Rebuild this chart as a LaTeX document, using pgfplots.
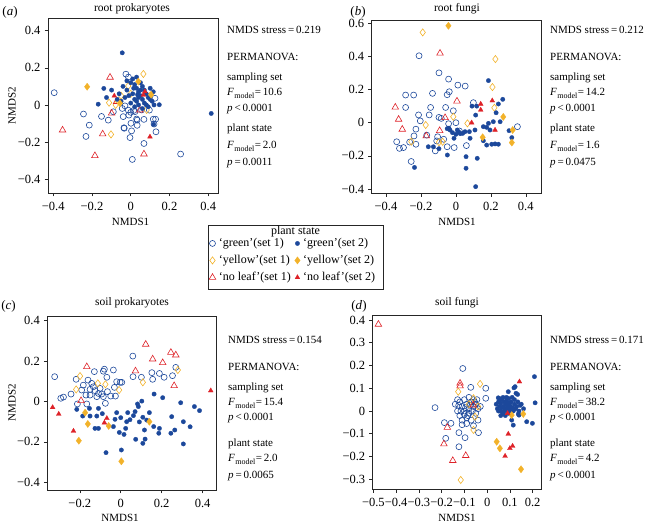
\documentclass[border=0pt]{standalone}
\usepackage{pgfplots}
\pgfplotsset{compat=1.18}
\usepackage{fontspec}
\setmainfont{Liberation Serif}
\definecolor{blueC}{RGB}{28,72,155}
\definecolor{yellowC}{RGB}{242,178,42}
\definecolor{redC}{RGB}{222,34,40}
\newcommand\fs{\fontsize{11bp}{13bp}\selectfont}
\newcommand\fl{\fontsize{12bp}{14bp}\selectfont}
\newcommand\ft{\fontsize{12.5bp}{14bp}\selectfont}
\newcommand\Fm{\textit{F}\kern0.3bp\raisebox{-2.6bp}{\fontsize{8bp}{8bp}\selectfont model}}
\pgfplotsset{
 panel/.style={scale only axis, axis line style={line width=0.8bp, black!85},
   tick align=outside, tick pos=left, major tick length=3.5bp,
   tick style={line width=0.6bp, black!85}, tick label style={font=\ft},
   xticklabel style={yshift=-2bp}, yticklabel style={xshift=-0.5bp}},
 g1/.style={only marks, mark=o, mark size=3bp, color=blueC, mark options={line width=0.6bp}},
 g2/.style={only marks, mark=*, mark size=2.2bp, color=blueC, mark options={fill=blueC, draw=blueC, line width=0.3bp}},
 y1/.style={only marks, mark=diamond, mark size=3.6bp, color=yellowC, mark options={line width=0.6bp}},
 y2/.style={only marks, mark=diamond*, mark size=3.6bp, color=yellowC, mark options={fill=yellowC, draw=yellowC, line width=0.3bp}},
 r1/.style={only marks, mark=triangle, mark size=3.8bp, color=redC, mark options={line width=0.6bp}},
 r2/.style={only marks, mark=triangle*, mark size=2.8bp, color=redC, mark options={fill=redC, draw=redC, line width=0.3bp}},
}
\begin{document}
\begin{tikzpicture}[x=1bp,y=1bp]
\useasboundingbox (0,0) rectangle (650,525);
% ---------------- (a) root prokaryotes
\begin{axis}[panel, at={(48bp,332bp)}, anchor=south west, width=170bp, height=175bp,
  xmin=-0.427, xmax=0.450, ymin=-0.475, ymax=0.469,
  xtick={-0.4,-0.2,0,0.2,0.4}, xticklabels={−0.4,−0.2,0,0.2,0.4},
  ytick={-0.4,-0.2,0,0.2,0.4}, yticklabels={−0.4,−0.2,0,0.2,0.4}]
\addplot[g1] coordinates {(-0.395,0.066) (-0.244,-0.049) (-0.214,-0.109) (-0.231,-0.170) (-0.151,-0.062) (-0.116,-0.082) (-0.090,-0.037) (-0.044,-0.019) (-0.035,-0.123) (-0.025,0.166) (-0.012,0.150) (-0.013,-0.028) (-0.004,-0.176) (0.004,-0.140) (0.008,-0.294) (0.000,-0.040) (0.015,-0.030) (-0.010,-0.055) (0.033,-0.082) (0.068,-0.078) (0.033,-0.110) (0.068,-0.208) (0.096,-0.028) (0.116,-0.077) (0.120,-0.103) (0.130,-0.145) (0.125,0.036) (0.257,-0.265) (0.022,-0.036) (-0.030,-0.005) (0.056,-0.027) (-0.039,-0.063) (0.001,-0.099) (0.030,-0.076) (-0.034,-0.126) (0.128,-0.077)};
\addplot[y1] coordinates {(0.065,0.167) (-0.102,-0.159) (-0.112,0.012) (-0.078,0.000) (-0.013,0.102) (0.000,0.060) (0.082,-0.027) (-0.050,0.050) (0.100,0.050)};
\addplot[r1] coordinates {(-0.107,0.149) (-0.352,-0.136) (-0.145,-0.157) (-0.185,-0.274) (0.068,-0.265) (-0.099,-0.045) (-0.073,0.018) (0.047,-0.028)};
\addplot[g2] coordinates {(-0.044,0.281) (0.415,-0.046) (-0.168,0.004) (-0.139,0.089) (-0.125,0.040) (-0.099,0.080) (0.147,0.001) (0.116,0.071) (0.118,-0.105) (-0.060,0.060) (-0.040,0.100) (-0.020,0.080) (0.000,0.120) (0.010,0.140) (0.020,0.110) (0.030,0.090) (0.040,0.070) (0.050,0.120) (0.060,0.100) (0.070,0.080) (0.080,0.060) (0.090,0.040) (0.100,0.030) (0.110,0.020) (-0.030,0.040) (-0.010,0.050) (0.010,0.060) (0.020,0.030) (0.030,0.020) (0.040,0.040) (0.050,0.050) (0.060,0.030) (0.070,0.010) (0.080,0.000) (0.090,-0.010) (0.000,0.010) (0.020,-0.010) (0.040,0.000) (-0.050,0.020) (0.060,-0.020) (0.100,0.090) (-0.020,0.130) (0.030,0.150) (0.050,0.080) (0.120,0.000) (0.015,0.090) (-0.070,0.030) (0.035,0.055)};
\addplot[y2] coordinates {(-0.225,0.098) (0.105,0.055) (0.039,0.126) (-0.056,0.009)};
\addplot[r2] coordinates {(-0.085,0.049) (0.099,-0.172) (0.073,0.072) (0.065,0.054)};
\end{axis}
% ---------------- (b) root fungi
\begin{axis}[panel, at={(371.7bp,331.7bp)}, anchor=south west, width=170bp, height=173.3bp,
  xmin=-0.482, xmax=0.491, ymin=-0.426, ymax=0.620,
  xtick={-0.4,-0.2,0,0.2,0.4}, xticklabels={−0.4,−0.2,0,0.2,0.4},
  ytick={-0.4,-0.2,0,0.2,0.4,0.6}, yticklabels={−0.4,−0.2,0,0.2,0.4,0.6}]
\addplot[g1] coordinates {(-0.211,0.404) (-0.097,0.301) (-0.042,0.263) (-0.038,0.187) (-0.050,0.169) (0.011,0.227) (0.053,0.221) (-0.288,0.167) (-0.242,0.167) (-0.134,0.177) (-0.288,0.092) (-0.145,0.092) (-0.214,0.047) (-0.153,0.047) (-0.059,0.092) (-0.097,0.032) (-0.084,0.026) (-0.204,0.011) (-0.229,-0.039) (-0.167,-0.075) (-0.105,-0.085) (-0.070,-0.100) (-0.265,-0.117) (-0.300,-0.150) (-0.256,-0.234) (-0.229,-0.130) (-0.118,-0.170) (-0.050,-0.145) (-0.042,-0.006) (0.000,0.000) (0.060,-0.138) (0.020,-0.050) (-0.015,0.072) (0.100,0.121) (0.352,-0.024) (-0.010,-0.150) (-0.339,-0.115) (-0.323,-0.155) (-0.240,-0.080) (-0.110,-0.110)};
\addplot[y1] coordinates {(-0.190,0.545) (0.226,0.384) (0.209,0.215) (0.220,0.090) (-0.173,-0.014) (-0.255,-0.114) (-0.097,-0.118) (0.066,-0.004) (-0.076,-0.115) (-0.015,0.036)};
\addplot[r1] coordinates {(-0.091,0.419) (0.006,0.130) (-0.347,0.093) (-0.328,0.020) (-0.307,-0.040) (-0.093,-0.048) (-0.062,0.030) (-0.170,-0.080)};
\addplot[g2] coordinates {(0.186,0.254) (0.268,0.141) (0.243,0.113) (0.092,0.100) (0.119,0.100) (0.113,0.046) (0.230,0.060) (0.214,0.006) (0.186,-0.004) (0.157,-0.024) (0.176,-0.028) (0.195,-0.044) (0.109,-0.044) (0.077,-0.054) (0.052,-0.054) (0.039,-0.064) (0.025,-0.066) (0.008,-0.044) (-0.034,-0.044) (-0.050,-0.036) (0.081,-0.094) (-0.011,-0.094) (0.157,-0.109) (0.176,-0.135) (0.205,-0.130) (0.224,-0.128) (0.243,-0.130) (0.304,-0.048) (0.320,-0.090) (0.058,-0.205) (0.122,-0.215) (0.058,-0.275) (0.113,-0.386) (-0.049,-0.195) (-0.158,-0.145) (-0.129,-0.145) (-0.097,-0.157) (-0.237,-0.270) (-0.040,-0.033) (0.253,0.006) (-0.020,-0.060) (0.000,-0.070) (0.016,-0.056)};
\addplot[y2] coordinates {(-0.043,0.585) (0.271,0.035) (0.153,-0.088) (0.325,-0.044) (0.320,-0.120)};
\addplot[r2] coordinates {(0.142,0.113) (0.142,0.077) (0.090,0.000) (0.208,0.133) (0.224,-0.044)};
\end{axis}
% ---------------- (c) soil prokaryotes
\begin{axis}[panel, at={(47.3bp,35bp)}, anchor=south west, width=169.4bp, height=173.3bp,
  xmin=-0.359, xmax=0.469, ymin=-0.438, ymax=0.420,
  xtick={-0.2,0,0.2,0.4}, xticklabels={−0.2,0,0.2,0.4},
  ytick={-0.4,-0.2,0,0.2,0.4}, yticklabels={−0.4,−0.2,0,0.2,0.4}]
\addplot[g1] coordinates {(-0.323,0.123) (-0.293,0.016) (-0.280,0.022) (-0.243,0.037) (-0.218,0.110) (-0.212,-0.012) (-0.166,-0.012) (-0.160,0.106) (-0.129,0.148) (-0.080,0.160) (-0.085,0.150) (-0.068,0.120) (-0.036,0.156) (-0.020,0.098) (-0.003,0.095) (0.005,0.095) (-0.031,0.070) (-0.026,0.027) (-0.075,-0.009) (0.059,0.225) (0.060,0.123) (0.101,0.120) (0.152,0.143) (0.156,0.110) (0.189,0.139) (0.212,0.120) (0.253,0.128) (0.269,0.169) (-0.183,0.081) (-0.150,0.060) (-0.126,0.054) (-0.101,0.065) (-0.093,0.037) (-0.150,0.032) (-0.117,0.024) (-0.085,0.024) (-0.065,0.049) (-0.049,0.027) (-0.170,0.032) (-0.142,0.090) (-0.134,0.073) (-0.191,0.057) (-0.109,0.040)};
\addplot[y1] coordinates {(-0.199,0.126) (-0.112,0.090) (-0.075,0.085) (-0.008,0.057) (0.108,0.095) (0.279,0.156) (-0.218,0.060)};
\addplot[r1] coordinates {(0.122,0.283) (0.245,0.243) (0.269,0.230) (0.156,0.210) (0.205,0.192) (-0.166,0.172) (0.072,0.151) (0.261,0.078) (-0.194,0.004)};
\addplot[g2] coordinates {(-0.072,-0.253) (0.003,-0.240) (-0.007,-0.153) (0.016,-0.163) (0.024,-0.133) (0.073,-0.187) (0.108,-0.207) (0.119,-0.186) (0.116,-0.141) (0.091,-0.101) (0.062,-0.070) (0.070,-0.050) (0.086,-0.025) (0.082,-0.012) (0.103,0.002) (0.163,0.037) (0.205,0.019) (0.249,-0.075) (0.189,-0.133) (0.161,-0.124) (0.186,-0.157) (0.245,-0.157) (0.264,-0.141) (0.306,-0.210) (0.306,-0.100) (0.293,-0.006) (0.360,-0.025) (0.385,-0.045) (0.339,-0.125) (0.108,-0.078) (0.127,-0.092) (0.140,-0.055) (0.034,-0.055) (0.029,-0.100) (-0.020,-0.055) (-0.028,-0.088) (-0.117,-0.072) (-0.109,-0.034) (-0.126,-0.133) (-0.109,-0.133) (-0.150,-0.072) (-0.186,-0.072) (-0.215,-0.039) (-0.153,-0.034) (-0.036,-0.124) (0.045,-0.090) (-0.090,-0.060) (0.000,-0.080)};
\addplot[y2] coordinates {(-0.174,-0.055) (-0.161,-0.111) (-0.059,-0.121) (0.140,-0.100) (-0.205,-0.194) (0.003,-0.296)};
\addplot[r2] coordinates {(0.440,0.054) (-0.333,-0.029) (-0.303,-0.062) (-0.231,-0.146) (-0.068,-0.083) (-0.080,-0.105)};
\end{axis}
% ---------------- (d) soil fungi
\begin{axis}[panel, at={(372.7bp,35.7bp)}, anchor=south west, width=169bp, height=173.6bp,
  xmin=-0.503, xmax=0.240, ymin=-0.344, ymax=0.419,
  xtick={-0.5,-0.4,-0.3,-0.2,-0.1,0,0.1,0.2}, xticklabels={−0.5,−0.4,−0.3,−0.2,−0.1,0,0.1,0.2},
  ytick={-0.3,-0.2,-0.1,0,0.1,0.2,0.3,0.4}, yticklabels={−0.3,−0.2,−0.1,0,0.1,0.2,0.3,0.4}]
\addplot[g1] coordinates {(-0.107,0.187) (-0.229,0.015) (-0.188,-0.051) (-0.159,-0.054) (-0.182,-0.120) (-0.124,-0.095) (-0.097,-0.117) (-0.124,-0.157) (-0.038,-0.095) (-0.006,0.100) (-0.006,0.056) (-0.072,0.104) (-0.140,0.030) (-0.130,0.000) (-0.120,0.040) (-0.120,-0.020) (-0.110,0.020) (-0.110,-0.040) (-0.100,0.050) (-0.100,0.000) (-0.090,0.030) (-0.090,-0.030) (-0.080,0.060) (-0.080,0.010) (-0.080,-0.010) (-0.070,0.040) (-0.070,-0.040) (-0.060,0.020) (-0.060,0.050) (-0.050,-0.010) (-0.050,0.030) (-0.040,0.010) (-0.040,-0.040) (-0.030,0.020) (-0.130,0.050) (-0.115,0.000) (-0.095,0.015) (-0.085,-0.020) (-0.065,0.000) (-0.055,0.040) (-0.045,0.050) (-0.100,-0.015) (-0.125,0.025) (-0.075,0.025) (-0.110,-0.060) (-0.090,-0.055) (-0.060,-0.065)};
\addplot[y1] coordinates {(-0.116,-0.303) (-0.031,0.119) (-0.127,0.085) (-0.060,0.056) (-0.053,-0.025) (-0.060,-0.083) (-0.080,0.030) (-0.040,0.020)};
\addplot[r1] coordinates {(-0.478,0.381) (-0.119,0.122) (-0.119,0.110) (-0.175,-0.072) (-0.190,-0.145) (-0.151,-0.218) (-0.094,-0.196) (-0.061,0.026)};
\addplot[g2] coordinates {(0.208,0.151) (0.211,0.036) (0.118,0.102) (0.134,0.073) (0.127,0.078) (0.123,0.107) (0.049,0.058) (0.093,0.085) (0.140,-0.018) (0.174,-0.047) (0.108,-0.040) (0.115,-0.062) (0.199,-0.054) (0.137,-0.013) (0.040,0.030) (0.045,0.010) (0.050,0.040) (0.055,0.020) (0.060,0.000) (0.060,0.035) (0.065,0.050) (0.070,0.020) (0.070,-0.010) (0.075,0.040) (0.080,0.010) (0.080,0.030) (0.085,0.045) (0.090,0.020) (0.090,0.000) (0.095,0.035) (0.100,0.010) (0.100,0.025) (0.105,0.040) (0.110,0.015) (0.115,0.000) (0.120,0.030) (0.125,0.010) (0.130,0.020) (0.135,0.040) (0.140,0.000) (0.145,0.025) (0.065,0.015) (0.075,0.000) (0.085,0.005) (0.095,-0.010) (0.105,-0.005) (0.050,0.000) (0.055,0.055) (0.070,0.060) (0.080,-0.020) (0.120,0.050) (0.110,0.060) (0.095,0.055) (0.085,0.060) (0.150,0.030) (0.160,0.010) (0.060,-0.020)};
\addplot[y2] coordinates {(0.159,-0.013) (0.149,-0.256) (0.042,-0.135) (0.056,-0.164) (0.108,-0.018)};
\addplot[r2] coordinates {(0.142,0.129) (0.093,-0.101) (0.112,-0.154) (0.100,-0.164) (0.079,-0.198) (0.090,-0.010)};
\end{axis}
% ---------------- legend
\begin{axis}[hide axis, scale only axis, width=10bp, height=10bp, at={(209bp,287.5bp)}, anchor=north west,
  xmin=0, xmax=1, ymin=0, ymax=1, legend columns=2, legend cell align=left,
  legend image code/.code={\draw[mark repeat=2,mark phase=2,#1] plot coordinates {(0bp,0bp)(5bp,0bp)(10bp,0bp)};},
  legend style={at={(0,1)}, anchor=north west, draw=none, fill=none, inner sep=0bp, row sep=5.5bp,
    font=\fl, nodes={inner sep=0bp, text height=8.5bp, text depth=3bp},
    /tikz/every odd column/.append style={column sep=3bp},
    /tikz/every even column/.append style={column sep=4bp}}]
\addlegendimage{g1}\addlegendentry{‘green’(set 1)}
\addlegendimage{g2}\addlegendentry{‘green’(set 2)}
\addlegendimage{y1}\addlegendentry{‘yellow’(set 1)}
\addlegendimage{y2}\addlegendentry{‘yellow’(set 2)}
\addlegendimage{r1}\addlegendentry{‘no leaf’(set 1)}
\addlegendimage{r2}\addlegendentry{‘no leaf’(set 2)}
\end{axis}
\draw[line width=0.6bp, black!85] (208,300) rectangle (383,236);
\node[font=\fl, inner sep=0] at (295.5,293) {plant state};
% ---------------- titles, labels
\node[font=\fontsize{13bp}{15bp}\selectfont, inner sep=0] at (10,513) {(\textit{a})};
\node[font=\fontsize{13bp}{15bp}\selectfont, inner sep=0] at (358,513) {(\textit{b})};
\node[font=\fontsize{13bp}{15bp}\selectfont, inner sep=0] at (8.5,219) {(\textit{c})};
\node[font=\fontsize{13bp}{15bp}\selectfont, inner sep=0] at (359,219) {(\textit{d})};
\node[font=\fontsize{11.5bp}{13bp}\selectfont, inner sep=0] at (132,516.5) {root prokaryotes};
\node[font=\fontsize{11.5bp}{13bp}\selectfont, inner sep=0] at (457,516.5) {root fungi};
\node[font=\fontsize{11.5bp}{13bp}\selectfont, inner sep=0] at (132,222) {soil prokaryotes};
\node[font=\fontsize{11.5bp}{13bp}\selectfont, inner sep=0] at (457,222) {soil fungi};
\node[font=\fs, inner sep=0] at (130.5,303) {NMDS1};
\node[font=\fs, inner sep=0] at (457,303) {NMDS1};
\node[font=\fs, inner sep=0] at (120,7) {NMDS1};
\node[font=\fs, inner sep=0] at (457,7) {NMDS1};
\node[font=\fs, inner sep=0, rotate=90] at (12,419.5) {NMDS2};
\node[font=\fs, inner sep=0, rotate=90] at (12,122) {NMDS2};
% ---------------- statistics text
\begin{scope}[every node/.style={anchor=base west, inner sep=0, font=\fs}]
\node at (227,491) {NMDS stress\,=\,0.219};
\node at (227,464) {PERMANOVA:};
\node at (227,444) {sampling set};
\node at (227,429) {\Fm\kern0.5bp=\,10.6};
\node at (227,413) {\textit{p}\,<\,0.0001};
\node at (227,393) {plant state};
\node at (227,376) {\Fm\kern0.5bp=\,2.0};
\node at (227,359) {\textit{p}\,=\,0.0011};
\node at (550,491) {NMDS stress\,=\,0.212};
\node at (550,464) {PERMANOVA:};
\node at (550,444) {sampling set};
\node at (550,429) {\Fm\kern0.5bp=\,14.2};
\node at (550,413) {\textit{p}\,<\,0.0001};
\node at (550,393) {plant state};
\node at (550,376) {\Fm\kern0.5bp=\,1.6};
\node at (550,359) {\textit{p}\,=\,0.0475};
\node at (228,181) {NMDS stress\,=\,0.154};
\node at (228,154) {PERMANOVA:};
\node at (228,134) {sampling set};
\node at (228,119) {\Fm\kern0.5bp=\,15.4};
\node at (228,104) {\textit{p}\,<\,0.0001};
\node at (228,78) {plant state};
\node at (228,63) {\Fm\kern0.5bp=\,2.0};
\node at (228,46) {\textit{p}\,=\,0.0065};
\node at (550,181) {NMDS stress\,=\,0.171};
\node at (550,154) {PERMANOVA:};
\node at (550,134) {sampling set};
\node at (550,119) {\Fm\kern0.5bp=\,38.2};
\node at (550,104) {\textit{p}\,<\,0.0001};
\node at (550,78) {plant state};
\node at (550,63) {\Fm\kern0.5bp=\,4.2};
\node at (550,46) {\textit{p}\,<\,0.0001};
\end{scope}
\end{tikzpicture}
\end{document}
